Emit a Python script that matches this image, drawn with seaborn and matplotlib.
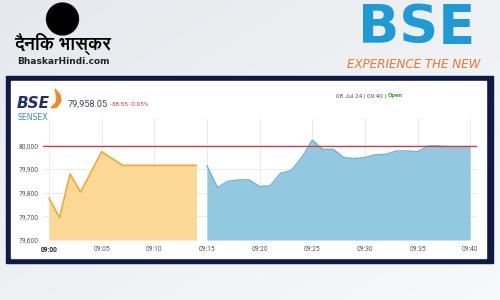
import numpy as np
import pandas as pd
import matplotlib
matplotlib.use("Agg")
import matplotlib.pyplot as plt
import seaborn as sns
from matplotlib.patches import Rectangle, Polygon
from matplotlib import font_manager
from matplotlib.ft2font import FT2Font

# ---------------- data ----------------
pre_minutes = [0, 1, 2, 3, 5, 7, 14]
pre_values = [79777, 79694, 79879, 79802, 79973, 79915, 79915]
mkt_minutes = [15, 16, 17, 18, 19, 20, 21, 22, 23, 24, 25, 26, 27,
               28, 29, 30, 31, 32, 33, 34, 35, 36, 37, 38, 39, 40]
mkt_values = [79914, 79821, 79848, 79854, 79854, 79826, 79829, 79882, 79893,
              79948, 80022, 79983, 79983, 79948, 79944, 79948, 79960, 79962,
              79976, 79976, 79973, 79997, 79997, 79993, 79993, 79994]
prev_close = 79996.60
y_ticks = [79600, 79700, 79800, 79900, 80000]
y_labels = ["79,600", "79,700", "79,800", "79,900", "80,000"]
x_ticks = [0, 5, 10, 15, 20, 25, 30, 35, 40]
x_labels = ["09:00", "09:05", "09:10", "09:15", "09:20", "09:25", "09:30", "09:35", "09:40"]
last_value = "79,958.05"
change_text = "-38.55 -0.05%"
stamp_text = "08 Jul 24 | 09:40 | "
status_text = "Open"
paper_name = "दैनिक भास्कर"
site_name = "BhaskarHindi.com"
bse_logo = "BSE"
tagline = "EXPERIENCE THE NEW"

pre_df = pd.DataFrame({"minute": pre_minutes, "value": pre_values})
mkt_df = pd.DataFrame({"minute": mkt_minutes, "value": mkt_values})


def find_family(chars):
    """Return the name of an installed font family that has all chars."""
    best = None
    for fe in font_manager.fontManager.ttflist:
        try:
            cmap = FT2Font(fe.fname).get_charmap()
        except Exception:
            continue
        if all(ord(c) in cmap for c in chars):
            if fe.weight in ("bold", 700) or (isinstance(fe.weight, int) and fe.weight >= 600):
                return fe.name
            best = best or fe.name
    return best


deva_family = find_family("दनकभसर")
hindi_families = ([deva_family] if deva_family else []) + ["DejaVu Sans"]

sns.set_theme(style="white")
plt.rcParams["font.family"] = ["Roboto", "DejaVu Sans"]

fig = plt.figure(figsize=(5, 3), dpi=100)

# ---------------- background ----------------
bg = fig.add_axes([0, 0, 1, 1])
bg.set_xlim(0, 500)
bg.set_ylim(300, 0)
bg.axis("off")
gx, gy = np.meshgrid(np.linspace(0, 1, 200), np.linspace(0, 1, 120))
g = 0.5 * gx + 0.5 * gy
c0 = np.array([0.90, 0.91, 0.93])
c1 = np.array([0.97, 0.975, 0.98])
img = c0[None, None, :] * (1 - g[..., None]) + c1[None, None, :] * g[..., None]
bg.imshow(img, extent=(0, 500, 300, 0), aspect="auto", zorder=0)

# navy frame + white panel
bg.add_patch(Rectangle((6, 76), 487, 187, color="#0E1A45", zorder=1))
bg.add_patch(Rectangle((11, 81), 475, 177, color="white", zorder=2))

# sunburst logo
n = 60
ang = np.linspace(0, 2 * np.pi, 2 * n, endpoint=False)
rad = np.where(np.arange(2 * n) % 2 == 0, 16.5, 13.5)
pts = np.column_stack([62.5 + rad * np.cos(ang), 19 + rad * np.sin(ang)])
bg.add_patch(Polygon(pts, closed=True, color="black", zorder=3))

bg.text(63, 43.5, paper_name, ha="center", va="center", fontsize=13,
        fontweight="bold", color="black", family=hindi_families, zorder=3)
bg.text(63, 61.5, site_name, ha="center", va="center", fontsize=6.5,
        fontweight="bold", color="#222222", family=["DejaVu Sans"], zorder=3)

bg.text(417, 28, bse_logo, ha="center", va="center", fontsize=39,
        fontweight="bold", color="#1E9AD6", family=["DejaVu Sans"], zorder=3)
bg.text(414, 64, tagline, ha="center", va="center", fontsize=8.6,
        style="italic", color="#E8782A", family=["DejaVu Sans"], zorder=3)

# panel header
bg.text(17, 108, "BSE", ha="left", va="baseline", fontsize=11, fontweight="bold",
        style="italic", color="#1F2F6B", family=["DejaVu Sans"], zorder=3)
flame = np.array([[55, 89], [60, 95], [61, 101], [57, 107], [51, 108], [56, 103], [57, 97]])
bg.add_patch(Polygon(flame, closed=True, color="#F08A24", zorder=3))
bg.text(18, 117, "SENSEX", ha="left", va="center", fontsize=5.6,
        color="#2F8FC0", family=["DejaVu Sans"], zorder=3)
bg.text(68, 104, last_value, ha="left", va="center", fontsize=6.6,
        color="#3B4654", zorder=3)
bg.text(110, 104.5, change_text, ha="left", va="center", fontsize=4.6,
        color="#D0333A", zorder=3)
t = bg.text(336, 95.5, stamp_text, ha="left", va="center", fontsize=4.6,
            color="#555555", zorder=3)
fig.canvas.draw()
bb = t.get_window_extent()
x_end = bb.x1 / fig.dpi / 5 * 500
bg.text(x_end, 95.5, status_text, ha="left", va="center", fontsize=4.6,
        fontweight="bold", color="#2DA02D", zorder=3)

# ---------------- chart ----------------
ax = fig.add_axes([43 / 500, 1 - 240 / 300, (477 - 43) / 500, (240 - 118) / 300])
ax.set_facecolor("none")
ax.set_zorder(5)

ax.fill_between(pre_df["minute"], pre_df["value"], y_ticks[0],
                color="#FBD895", linewidth=0, zorder=2)
sns.lineplot(data=pre_df, x="minute", y="value", ax=ax, color="#F0A935",
             linewidth=1.2, zorder=3)
ax.fill_between(mkt_df["minute"], mkt_df["value"], y_ticks[0],
                color="#92C9E1", linewidth=0, zorder=2)
sns.lineplot(data=mkt_df, x="minute", y="value", ax=ax, color="#6FB3D6",
             linewidth=1.0, zorder=3)
ax.axhline(prev_close, color="#D9363E", linewidth=0.9, zorder=4)

ax.set_xlim(-0.57, 40.65)
ax.set_ylim(y_ticks[0], 80115)
ax.set_xticks(x_ticks)
ax.set_xticklabels(x_labels)
ax.set_yticks(y_ticks)
ax.set_yticklabels(y_labels)
ax.set_xlabel("")
ax.set_ylabel("")
ax.grid(True, color="#E6E6E6", linewidth=0.6, zorder=1)
ax.set_axisbelow(True)
for s in ax.spines.values():
    s.set_visible(False)
ax.tick_params(axis="both", length=0, labelsize=4.8, colors="#555555")
ax.tick_params(axis="x", pad=4)
ax.tick_params(axis="y", pad=3)
lbl0 = ax.get_xticklabels()[0]
lbl0.set_fontweight("bold")
lbl0.set_color("#222222")

fig.savefig("out.png", dpi=100)
